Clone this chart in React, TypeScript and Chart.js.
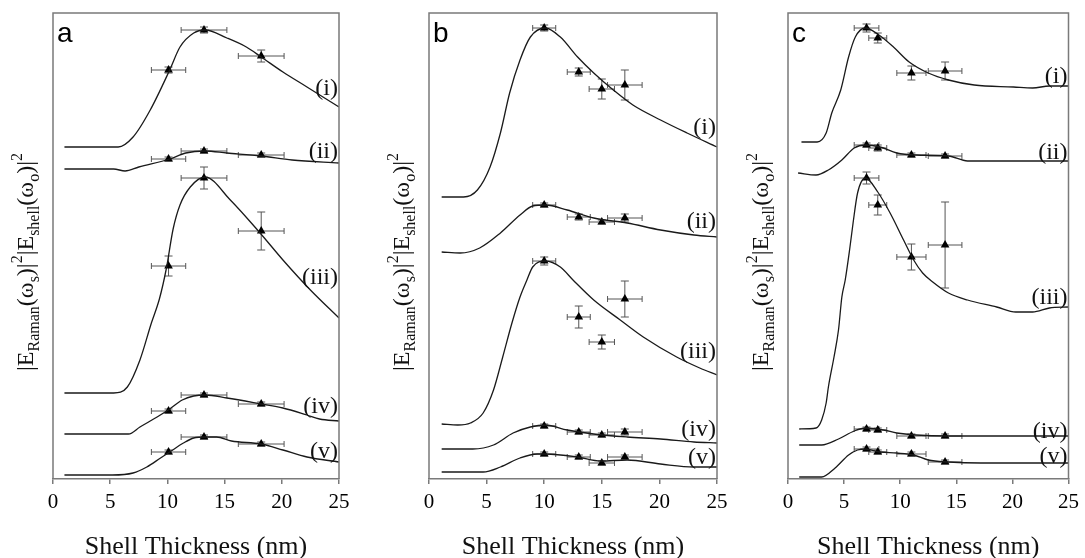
import React, { useEffect, useRef } from "react";
import { Chart, registerables } from "chart.js";

Chart.register(...registerables);

// ---------- data ----------
const xTicks = [0, 5, 10, 15, 20, 25];
const curveNames = ["(i)", "(ii)", "(iii)", "(iv)", "(v)"];
const panelLetters = ["a", "b", "c"];
const xTitle = "Shell Thickness (nm)";

// panel a: calculated curves [thickness nm, intensity (arb.)]
const aCurve1 = [[1, 332], [5.7, 332], [7, 342], [8.5, 369], [10.2, 409], [11.1, 432], [12.3, 446], [13.3, 449], [15.2, 441], [16.9, 432], [18.2, 422], [20.1, 407], [22.2, 392], [25, 372]];
const aCurve2 = [[1, 310], [5.3, 310], [6.3, 308], [7.5, 312], [10.2, 320], [11.6, 326], [13.3, 328], [15.2, 326], [18.2, 323], [20.9, 319], [25, 316]];
const aCurve3 = [[1, 86], [5.3, 86], [6.5, 92], [7.6, 119], [8.6, 156], [9.3, 180], [9.9, 210], [10.5, 250], [11.1, 274], [12.0, 292], [13.3, 302], [15.5, 279], [18.1, 246], [20.1, 219], [22.5, 189], [25, 161]];
const aCurve4 = [[1, 45], [6.6, 45], [7.6, 52], [9.1, 62], [10.2, 70], [11.3, 79], [12.3, 83], [13.3, 84], [15.2, 81], [18.2, 75], [20.1, 71], [22.2, 64], [23.3, 60], [25, 58]];
const aCurve5 = [[1, 4], [5.2, 4], [7.0, 6], [8.2, 12], [9.4, 21], [10.2, 27], [11.4, 36], [12.3, 41], [13.3, 42], [14.3, 42], [15.6, 38], [18.2, 35], [20.1, 29], [22.2, 22], [25, 17]];
const aMarkX = [10.1, 13.2, 18.2];
const aMarkXErr = [1.5, 2, 2];
const aMarkY = [[409, 449, 423], [320, 328, 324], [213, 301, 248], [68, 84, 75], [27, 42, 35]];
const aMarkYErr = [[3, 3, 6], [2, 2, 2], [10, 11, 19], [2, 2, 2], [2, 2, 2]];
const aLabelY = [390, 327, 201, 72, 27];

// panel b
const bCurve1 = [[1.1, 282], [3.0, 282], [4.2, 289], [5.3, 312], [6.2, 346], [7.0, 386], [7.9, 419], [8.8, 442], [10.1, 451], [11.4, 442], [12.9, 422], [14.3, 406], [16.0, 389], [17.7, 374], [20.1, 359], [22.4, 346], [25, 332]];
const bCurve2 = [[1.1, 227], [2.7, 226], [4.4, 231], [6.2, 246], [7.9, 264], [9.0, 273], [10.1, 274], [12, 269], [14.3, 261], [17.2, 256], [20.1, 249], [23, 244], [25, 242]];
const bCurve3 = [[1.1, 55], [2.5, 54], [3.6, 56], [4.7, 66], [5.6, 89], [6.4, 122], [7.2, 156], [7.9, 182], [8.5, 199], [9.0, 212], [10.1, 218], [11.4, 212], [12.5, 199], [14.3, 179], [16.6, 159], [18.6, 142], [21.5, 122], [23.5, 111], [25, 104]];
const bCurve4 = [[1.1, 30], [3.8, 30], [5.6, 34], [7.3, 46], [8.8, 52], [10.1, 54], [12, 49], [14.3, 45], [17.2, 42], [20.1, 40], [23, 37], [25, 36]];
const bCurve5 = [[1.1, 7], [4.7, 7], [6.2, 12], [7.9, 21], [9.4, 25], [10.1, 25], [12.9, 22], [14.9, 18], [17.2, 19], [20.1, 15], [23, 12], [25, 12]];
const bMarkX = [10, 13, 15, 17];
const bMarkXErr = [1, 1, 1.1, 1.5];
const bMarkY = [[451, 407, 390, 394], [274, 262, 257, 261], [218, 162, 137, 180], [53, 47, 44, 47], [25, 22, 16, 22]];
const bMarkYErr = [[3, 4, 10, 15], [2, 3, 2, 4], [4, 11, 7, 18], [2, 2, 2, 3], [2, 2, 2, 2]];
const bLabelY = [351, 257, 127, 49, 21];

// panel c
const cCurve1 = [[1.2, 337], [2.6, 337], [3.4, 346], [3.9, 366], [4.7, 389], [5.4, 422], [6.0, 442], [6.9, 451], [8.1, 444], [9.4, 432], [10.8, 417], [12.5, 406], [14.3, 399], [16.6, 394], [20.1, 392], [21.8, 391], [23.3, 393], [25, 393]];
const cCurve2 = [[0.9, 306], [2.5, 304], [3.6, 309], [4.8, 319], [5.9, 331], [6.9, 334], [8.2, 332], [9.7, 326], [11.4, 324], [14.3, 323], [16.0, 318], [20.1, 318], [25, 318]];
const cCurve3 = [[1.0, 50], [2.5, 51], [3.0, 59], [3.4, 76], [3.6, 92], [4.1, 122], [4.5, 149], [4.8, 182], [5.1, 199], [5.5, 230], [5.8, 256], [6.2, 286], [6.9, 301], [8.0, 287], [9.1, 266], [10.3, 239], [11.2, 219], [12.0, 206], [12.9, 197], [14.3, 186], [16.0, 179], [18.6, 172], [20.3, 167], [21.8, 167], [23.3, 171], [25, 172]];
const cCurve4 = [[1.0, 34], [3.0, 34], [4.5, 40], [5.9, 48], [6.9, 51], [8.5, 49], [9.7, 46], [11.4, 44], [14.3, 43], [16, 43], [25, 43]];
const cCurve5 = [[1.0, 2], [3.0, 2], [4.2, 11], [5.4, 24], [6.2, 29], [6.9, 30], [8.2, 27], [9.7, 26], [11.2, 24], [12.5, 19], [14.3, 17], [17.2, 16], [19.5, 16], [25, 16]];
const cMarkX = [7, 8, 11, 14];
const cMarkXErr = [1.1, 0.8, 1.3, 1.5];
const cMarkY = [[451, 441, 406, 408], [334, 331, 324, 323], [301, 274, 222, 234], [50, 49, 43, 43], [30, 27, 25, 17]];
const cMarkYErr = [[4, 5, 7, 9], [2, 3, 2, 2], [6, 10, 13, 43], [2, 2, 2, 2], [2, 2, 2, 2]];
const cLabelY = [402, 326, 181, 47, 22];

// ---------- layout / style ----------
const W = 1085;
const H = 558;
const PLOT_TOP = 13;
const AXIS_H = 79;
const Y_MAX = 466;

const PANELS = [
  { letter: panelLetters[0], curves: [aCurve1, aCurve2, aCurve3, aCurve4, aCurve5], markX: aMarkX, markXErr: aMarkXErr, markY: aMarkY, markYErr: aMarkYErr, labelY: aLabelY, padL: 53, padR: W - 339 },
  { letter: panelLetters[1], curves: [bCurve1, bCurve2, bCurve3, bCurve4, bCurve5], markX: bMarkX, markXErr: bMarkXErr, markY: bMarkY, markYErr: bMarkYErr, labelY: bLabelY, padL: 429, padR: W - 717 },
  { letter: panelLetters[2], curves: [cCurve1, cCurve2, cCurve3, cCurve4, cCurve5], markX: cMarkX, markXErr: cMarkXErr, markY: cMarkY, markYErr: cMarkYErr, labelY: cLabelY, padL: 788, padR: W - 1077 },
];

const SERIF = "'Liberation Serif', 'Times New Roman', serif";
const SANS = "'Liberation Sans', Arial, sans-serif";
const FRAME = "#7a7a7a";
const INK = "#000";

function drawYLabel(ctx: CanvasRenderingContext2D, cx: number, cy: number) {
  const segs = [
    { t: "|E", k: "n" }, { t: "Raman", k: "sub" }, { t: "(\u03c9", k: "n" }, { t: "s", k: "sub" }, { t: ")|", k: "n" }, { t: "2", k: "sup" },
    { t: "|E", k: "n" }, { t: "shell", k: "sub" }, { t: "(\u03c9", k: "n" }, { t: "o", k: "sub" }, { t: ")|", k: "n" }, { t: "2", k: "sup" },
  ];
  const fontFor = (k: string) => (k === "n" ? `24px ${SERIF}` : `16px ${SERIF}`);
  ctx.save();
  let total = 0;
  const widths = segs.map((s) => {
    ctx.font = fontFor(s.k);
    const w = ctx.measureText(s.t).width;
    total += w;
    return w;
  });
  ctx.translate(cx, cy);
  ctx.rotate(-Math.PI / 2);
  ctx.fillStyle = "#111";
  ctx.textBaseline = "alphabetic";
  ctx.textAlign = "left";
  let x = -total / 2;
  segs.forEach((s, i) => {
    ctx.font = fontFor(s.k);
    const dy = s.k === "sub" ? 6 : s.k === "sup" ? -11 : 0;
    ctx.fillText(s.t, x, dy);
    x += widths[i];
  });
  ctx.restore();
}

function buildChart(canvas: HTMLCanvasElement, p: any) {
  const datasets: any[] = [];
  p.curves.forEach((c: number[][], i: number) => {
    datasets.push({
      label: curveNames[i],
      data: c.map((d) => ({ x: d[0], y: d[1] })),
      showLine: true,
      borderColor: "#1a1a1a",
      borderWidth: 1.3,
      pointRadius: 0,
      cubicInterpolationMode: "monotone",
      fill: false,
    });
  });
  p.markY.forEach((ys: number[], i: number) => {
    datasets.push({
      label: "data " + curveNames[i],
      data: ys.map((y, j) => ({ x: p.markX[j], y })),
      showLine: false,
      pointStyle: "triangle",
      pointRadius: 5,
      backgroundColor: "#000",
      borderColor: "#000",
      borderWidth: 0,
    });
  });

  const overlay = {
    id: "overlay",
    beforeDatasetsDraw(chart: any) {
      const { ctx } = chart;
      const xs = chart.scales.x;
      const ysc = chart.scales.y;
      ctx.save();
      ctx.strokeStyle = "#555";
      ctx.lineWidth = 1;
      p.markY.forEach((ys: number[], i: number) => {
        ys.forEach((yv: number, j: number) => {
          const xv = p.markX[j];
          const xe = p.markXErr[j];
          const ye = p.markYErr[i][j];
          const px = xs.getPixelForValue(xv);
          const py = ysc.getPixelForValue(yv);
          const x1 = xs.getPixelForValue(xv - xe);
          const x2 = xs.getPixelForValue(xv + xe);
          const y1 = ysc.getPixelForValue(yv + ye);
          const y2 = ysc.getPixelForValue(yv - ye);
          ctx.beginPath();
          ctx.moveTo(x1, py); ctx.lineTo(x2, py);
          ctx.moveTo(x1, py - 3); ctx.lineTo(x1, py + 3);
          ctx.moveTo(x2, py - 3); ctx.lineTo(x2, py + 3);
          ctx.moveTo(px, y1); ctx.lineTo(px, y2);
          ctx.moveTo(px - 4, y1); ctx.lineTo(px + 4, y1);
          ctx.moveTo(px - 4, y2); ctx.lineTo(px + 4, y2);
          ctx.stroke();
        });
      });
      ctx.restore();
    },
    afterDraw(chart: any) {
      const { ctx, chartArea } = chart;
      const ysc = chart.scales.y;
      ctx.save();
      // frame (left, top, right)
      ctx.strokeStyle = FRAME;
      ctx.lineWidth = 1.5;
      ctx.beginPath();
      ctx.moveTo(chartArea.left, chartArea.bottom);
      ctx.lineTo(chartArea.left, chartArea.top);
      ctx.lineTo(chartArea.right, chartArea.top);
      ctx.lineTo(chartArea.right, chartArea.bottom);
      ctx.stroke();
      // panel letter
      ctx.fillStyle = "#000";
      ctx.font = `28px ${SANS}`;
      ctx.textAlign = "left";
      ctx.textBaseline = "alphabetic";
      ctx.fillText(p.letter, chartArea.left + 4, chartArea.top + 29);
      // curve labels
      ctx.font = `24px ${SERIF}`;
      ctx.textAlign = "right";
      ctx.textBaseline = "middle";
      ctx.fillStyle = "#111";
      p.labelY.forEach((v: number, i: number) => {
        ctx.fillText(curveNames[i], chartArea.right - 1, ysc.getPixelForValue(v));
      });
      ctx.restore();
      // y-axis title
      drawYLabel(ctx, chartArea.left - 20, 262);
    },
  };

  return new Chart(canvas, {
    type: "scatter",
    data: { datasets },
    options: {
      responsive: false,
      animation: false,
      events: [],
      layout: { padding: { left: p.padL, right: p.padR, top: PLOT_TOP, bottom: 0 } },
      plugins: { legend: { display: false }, tooltip: { enabled: false } },
      scales: {
        x: {
          type: "linear",
          min: 0,
          max: 25,
          afterBuildTicks: (s: any) => {
            s.ticks = xTicks.map((v) => ({ value: v }));
          },
          afterFit: (s: any) => {
            s.height = AXIS_H;
          },
          ticks: { font: { family: SERIF, size: 21 }, color: INK, padding: 6, maxRotation: 0, autoSkip: false },
          grid: { display: true, drawOnChartArea: false, drawTicks: true, tickLength: 5, color: FRAME, lineWidth: 1.5 },
          border: { display: true, color: FRAME, width: 1.5 },
          title: { display: true, text: xTitle, color: "#111", font: { family: SERIF, size: 26, lineHeight: 0.85 }, padding: 0 },
        },
        y: { type: "linear", min: 0, max: Y_MAX, display: false },
      },
    },
    plugins: [overlay],
  } as any);
}

function Panel({ idx }: { idx: number }) {
  const ref = useRef<HTMLCanvasElement | null>(null);
  useEffect(() => {
    if (!ref.current) return;
    const chart = buildChart(ref.current, PANELS[idx]);
    return () => chart.destroy();
  }, [idx]);
  return (
    <canvas
      ref={ref}
      width={W}
      height={H}
      style={{ position: "absolute", left: 0, top: 0, width: W, height: H }}
    />
  );
}

export default function App() {
  return (
    <div style={{ position: "fixed", left: 0, top: 0, width: W, height: H, background: "#fff", overflow: "hidden" }}>
      <Panel idx={0} />
      <Panel idx={1} />
      <Panel idx={2} />
    </div>
  );
}
